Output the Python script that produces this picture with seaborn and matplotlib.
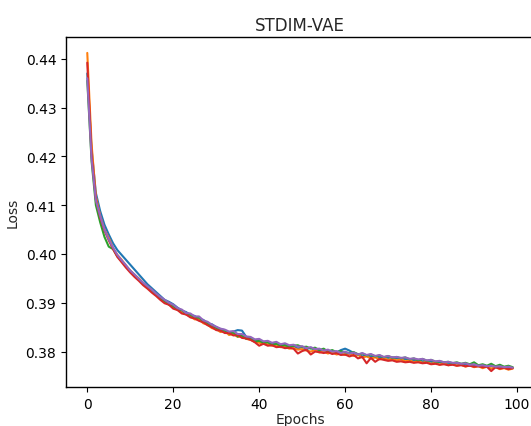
import matplotlib
matplotlib.use("Agg")
import matplotlib.pyplot as plt
import seaborn as sns
import pandas as pd
import numpy as np

epochs = list(range(100))

run_blue = [
    0.4370, 0.4215, 0.4125, 0.4088, 0.4060, 0.4040, 0.4022, 0.4008, 0.3998, 0.3988,
    0.3978, 0.3968, 0.3958, 0.3948, 0.3938, 0.3930, 0.3922, 0.3914, 0.3906, 0.3902,
    0.3897, 0.3890, 0.3884, 0.3881, 0.3875, 0.3873, 0.3866, 0.3865, 0.3857, 0.3856,
    0.3850, 0.3846, 0.3844, 0.3838, 0.3841, 0.3844, 0.3843, 0.3830, 0.3828, 0.3822,
    0.3824, 0.3818, 0.3820, 0.3815, 0.3818, 0.3812, 0.3814, 0.3810, 0.3812, 0.3806,
    0.3810, 0.3805, 0.3808, 0.3803, 0.3801, 0.3804, 0.3799, 0.3802, 0.3798, 0.3803,
    0.3806, 0.3802, 0.3797, 0.3795, 0.3790, 0.3793, 0.3789, 0.3791, 0.3788, 0.3789,
    0.3787, 0.3788, 0.3786, 0.3787, 0.3784, 0.3785, 0.3782, 0.3783, 0.3780, 0.3781,
    0.3779, 0.3778, 0.3778, 0.3776, 0.3777, 0.3775, 0.3776, 0.3773, 0.3774, 0.3771,
    0.3772, 0.3770, 0.3771, 0.3769, 0.3770, 0.3768, 0.3769, 0.3767, 0.3768, 0.3767,
]

run_orange = [
    0.4412, 0.4225, 0.4118, 0.4078, 0.4050, 0.4033, 0.4012, 0.3998, 0.3988, 0.3976,
    0.3966, 0.3957, 0.3950, 0.3940, 0.3932, 0.3926, 0.3917, 0.3910, 0.3903, 0.3897,
    0.3890, 0.3886, 0.3880, 0.3876, 0.3872, 0.3866, 0.3866, 0.3858, 0.3855, 0.3848,
    0.3846, 0.3840, 0.3842, 0.3834, 0.3836, 0.3830, 0.3832, 0.3826, 0.3824, 0.3820,
    0.3818, 0.3816, 0.3815, 0.3812, 0.3814, 0.3809, 0.3810, 0.3806, 0.3807, 0.3804,
    0.3805, 0.3802, 0.3800, 0.3803, 0.3798, 0.3800, 0.3796, 0.3799, 0.3794, 0.3796,
    0.3793, 0.3795, 0.3791, 0.3793, 0.3788, 0.3790, 0.3786, 0.3788, 0.3784, 0.3786,
    0.3783, 0.3785, 0.3782, 0.3784, 0.3780, 0.3782, 0.3778, 0.3781, 0.3777, 0.3779,
    0.3775, 0.3777, 0.3773, 0.3776, 0.3772, 0.3774, 0.3771, 0.3773, 0.3769, 0.3772,
    0.3768, 0.3770, 0.3766, 0.3769, 0.3765, 0.3768, 0.3764, 0.3766, 0.3763, 0.3765,
]

run_green = [
    0.4355, 0.4190, 0.4100, 0.4065, 0.4035, 0.4015, 0.4010, 0.3995, 0.3985, 0.3975,
    0.3965, 0.3957, 0.3948, 0.3940, 0.3933, 0.3925, 0.3918, 0.3909, 0.3904, 0.3896,
    0.3893, 0.3886, 0.3885, 0.3877, 0.3876, 0.3869, 0.3870, 0.3861, 0.3859, 0.3851,
    0.3849, 0.3843, 0.3843, 0.3837, 0.3839, 0.3831, 0.3833, 0.3826, 0.3828, 0.3820,
    0.3822, 0.3818, 0.3819, 0.3814, 0.3816, 0.3812, 0.3813, 0.3810, 0.3812, 0.3813,
    0.3809, 0.3810, 0.3806, 0.3808, 0.3803, 0.3806, 0.3800, 0.3803, 0.3799, 0.3801,
    0.3798, 0.3797, 0.3799, 0.3794, 0.3796, 0.3792, 0.3794, 0.3790, 0.3792, 0.3788,
    0.3791, 0.3787, 0.3789, 0.3786, 0.3788, 0.3784, 0.3786, 0.3782, 0.3785, 0.3781,
    0.3783, 0.3779, 0.3780, 0.3778, 0.3779, 0.3776, 0.3778, 0.3775, 0.3777, 0.3774,
    0.3778, 0.3772, 0.3774, 0.3771, 0.3775, 0.3770, 0.3773, 0.3769, 0.3771, 0.3768,
]

run_red = [
    0.4392, 0.4205, 0.4112, 0.4075, 0.4048, 0.4028, 0.4010, 0.3994, 0.3983, 0.3972,
    0.3962, 0.3953, 0.3945, 0.3936, 0.3929, 0.3921, 0.3914, 0.3906, 0.3899, 0.3896,
    0.3888, 0.3885, 0.3878, 0.3876, 0.3870, 0.3868, 0.3863, 0.3860, 0.3854, 0.3850,
    0.3844, 0.3843, 0.3838, 0.3838, 0.3833, 0.3834, 0.3828, 0.3827, 0.3824, 0.3819,
    0.3812, 0.3816, 0.3812, 0.3813, 0.3809, 0.3810, 0.3807, 0.3808, 0.3806, 0.3796,
    0.3801, 0.3804, 0.3794, 0.3800, 0.3799, 0.3797, 0.3799, 0.3795, 0.3797, 0.3793,
    0.3794, 0.3790, 0.3793, 0.3786, 0.3789, 0.3776, 0.3787, 0.3779, 0.3785, 0.3783,
    0.3781, 0.3782, 0.3779, 0.3780, 0.3778, 0.3779, 0.3777, 0.3778, 0.3776, 0.3777,
    0.3774, 0.3775, 0.3773, 0.3774, 0.3772, 0.3773, 0.3771, 0.3772, 0.3770, 0.3771,
    0.3769, 0.3770, 0.3768, 0.3769, 0.3760, 0.3768, 0.3765, 0.3767, 0.3764, 0.3766,
]

run_purple = [
    0.4360, 0.4195, 0.4110, 0.4078, 0.4050, 0.4030, 0.4013, 0.3998, 0.3987, 0.3977,
    0.3966, 0.3958, 0.3949, 0.3941, 0.3934, 0.3927, 0.3919, 0.3912, 0.3906, 0.3900,
    0.3896, 0.3889, 0.3886, 0.3879, 0.3878, 0.3872, 0.3872, 0.3864, 0.3861, 0.3855,
    0.3851, 0.3847, 0.3845, 0.3841, 0.3842, 0.3836, 0.3836, 0.3831, 0.3830, 0.3825,
    0.3826, 0.3821, 0.3822, 0.3818, 0.3820, 0.3815, 0.3817, 0.3813, 0.3814, 0.3810,
    0.3811, 0.3807, 0.3809, 0.3805, 0.3806, 0.3802, 0.3804, 0.3800, 0.3801, 0.3797,
    0.3800, 0.3796, 0.3798, 0.3794, 0.3797, 0.3793, 0.3795, 0.3791, 0.3793, 0.3789,
    0.3791, 0.3788, 0.3789, 0.3787, 0.3788, 0.3785, 0.3786, 0.3784, 0.3785, 0.3782,
    0.3783, 0.3780, 0.3781, 0.3778, 0.3779, 0.3777, 0.3777, 0.3775, 0.3776, 0.3773,
    0.3774, 0.3771, 0.3772, 0.3770, 0.3771, 0.3769, 0.3770, 0.3768, 0.3769, 0.3767,
]

run_names = ["run1", "run2", "run3", "run4", "run5"]
runs = [run_blue, run_orange, run_green, run_red, run_purple]

frames = [pd.DataFrame({"Epochs": epochs, "Loss": vals, "run": name})
          for name, vals in zip(run_names, runs)]
df = pd.concat(frames, ignore_index=True)

sns.set_style("ticks")
plt.rcParams["font.family"] = ["DejaVu Sans"]

fig = plt.figure(figsize=(5.31, 4.27), dpi=100)
ax = fig.add_axes([66 / 531, 1 - 388 / 427, 468 / 531, 350 / 427])

sns.lineplot(data=df, x="Epochs", y="Loss", hue="run", palette="tab10",
             legend=False, linewidth=1.5, ax=ax)

for s in ax.spines.values():
    s.set_color("black")
    s.set_linewidth(1.0)
ax.tick_params(axis="both", colors="black", labelsize=10, length=3.5, width=0.8)
ax.set_title("STDIM-VAE", fontsize=12, pad=5)
ax.set_xlabel("Epochs", fontsize=10, labelpad=1)
ax.set_ylabel("Loss", fontsize=10)
ax.set_yticks([0.38, 0.39, 0.40, 0.41, 0.42, 0.43, 0.44])
ax.set_xticks([0, 20, 40, 60, 80, 100])

fig.savefig("out.png", dpi=100)
